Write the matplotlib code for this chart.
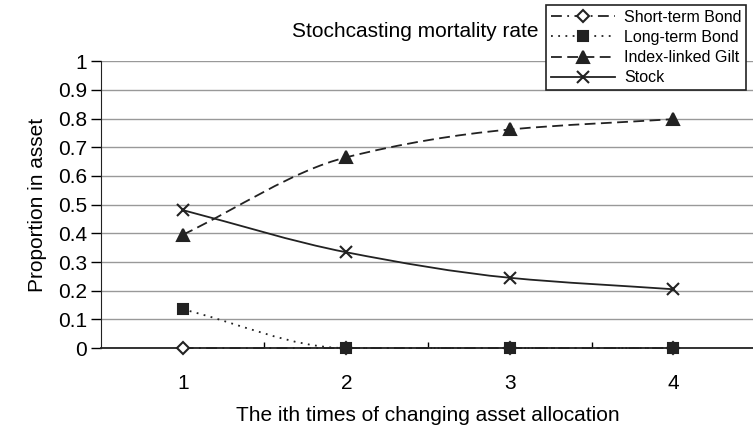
import numpy as np
import matplotlib.pyplot as plt
from matplotlib.path import Path
from matplotlib.patches import PathPatch
from matplotlib.lines import Line2D

plt.rcParams['font.family'] = ['Liberation Sans', 'DejaVu Sans']

times = [1, 2, 3, 4]
short_bond = [0.0, 0.0, 0.0, 0.0]
long_bond = [0.135, 0.0, 0.0, 0.0]
gilt = [0.395, 0.665, 0.762, 0.798]
stock = [0.481, 0.334, 0.245, 0.205]


def smooth_path(x, y):
    # smoothed line drawn as cubic bezier segments, monotone tangents so no overshoot
    x = np.asarray(x, float)
    y = np.asarray(y, float)
    n = len(x)
    d = np.diff(y) / np.diff(x)
    m = np.zeros(n)
    m[0], m[-1] = d[0], d[-1]
    for i in range(1, n - 1):
        if d[i - 1] * d[i] > 0:
            m[i] = 2 / (1 / d[i - 1] + 1 / d[i])
    verts = [(x[0], y[0])]
    codes = [Path.MOVETO]
    for i in range(n - 1):
        h = x[i + 1] - x[i]
        verts += [(x[i] + h / 3, y[i] + m[i] * h / 3),
                  (x[i + 1] - h / 3, y[i + 1] - m[i + 1] * h / 3),
                  (x[i + 1], y[i + 1])]
        codes += [Path.CURVE4] * 3
    return Path(verts, codes)


fig = plt.figure(figsize=(7.53, 4.25), dpi=100)
ax = fig.add_axes([0.134, 0.181, 0.869, 0.675])

series = [
    ("Short-term Bond", short_bond, (0, (6, 3, 1, 3)), "D", "white", 6),
    ("Long-term Bond", long_bond, (0, (1, 3)), "s", "#222222", 7),
    ("Index-linked Gilt", gilt, (0, (6, 3)), "^", "#222222", 8),
    ("Stock", stock, "-", "x", "#222222", 9),
]

handles = []
for name, vals, ls, mk, fc, ms in series:
    patch = PathPatch(smooth_path(times, vals), fill=False, edgecolor="#222222",
                      lw=1.3, linestyle=ls, zorder=3, clip_on=False)
    ax.add_patch(patch)
    ax.plot(times, vals, linestyle="none", marker=mk, color="#222222",
            markerfacecolor=fc, markersize=ms, markeredgewidth=1.5,
            zorder=4, clip_on=False)
    handles.append(Line2D([], [], color="#222222", lw=1.3, linestyle=ls,
                          marker=mk, markerfacecolor=fc, markersize=ms,
                          markeredgewidth=1.5))

ax.set_xlim(0.5, 4.5)
ax.set_ylim(0, 1)
ax.set_yticks(np.arange(0, 1.01, 0.1))
ax.set_yticklabels(["0", "0.1", "0.2", "0.3", "0.4", "0.5", "0.6", "0.7",
                    "0.8", "0.9", "1"])
ax.set_xticks(times)
ax.set_xticks([1.5, 2.5, 3.5], minor=True)
ax.tick_params(axis="x", which="major", length=0, labelsize=15, pad=19)
ax.tick_params(axis="x", which="minor", length=4, direction="in", width=1)
ax.tick_params(axis="y", length=7, width=1, labelsize=15, pad=3)
ax.yaxis.grid(True, color="#999999", lw=1)
ax.set_axisbelow(True)
for s in ["top", "right"]:
    ax.spines[s].set_visible(False)
ax.spines["left"].set_color("#222222")
ax.spines["bottom"].set_color("#222222")
ax.spines["bottom"].set_linewidth(1.3)

ax.set_xlabel("The ith times of changing asset allocation", fontsize=15, labelpad=9)
ax.set_ylabel("Proportion in asset", fontsize=15, labelpad=8)
fig.text(0.551, 0.925, "Stochcasting mortality rate", fontsize=15, ha="center", va="center")

leg = fig.legend(handles, [s[0] for s in series], loc="upper left",
                 bbox_to_anchor=(0.725, 0.988), fontsize=11.5, frameon=True,
                 fancybox=False, edgecolor="#222222", framealpha=1,
                 handlelength=4.0, labelspacing=0.32, borderpad=0.3,
                 handletextpad=0.6, borderaxespad=0)
leg.get_frame().set_linewidth(1.2)

fig.savefig("out.png", dpi=100)
